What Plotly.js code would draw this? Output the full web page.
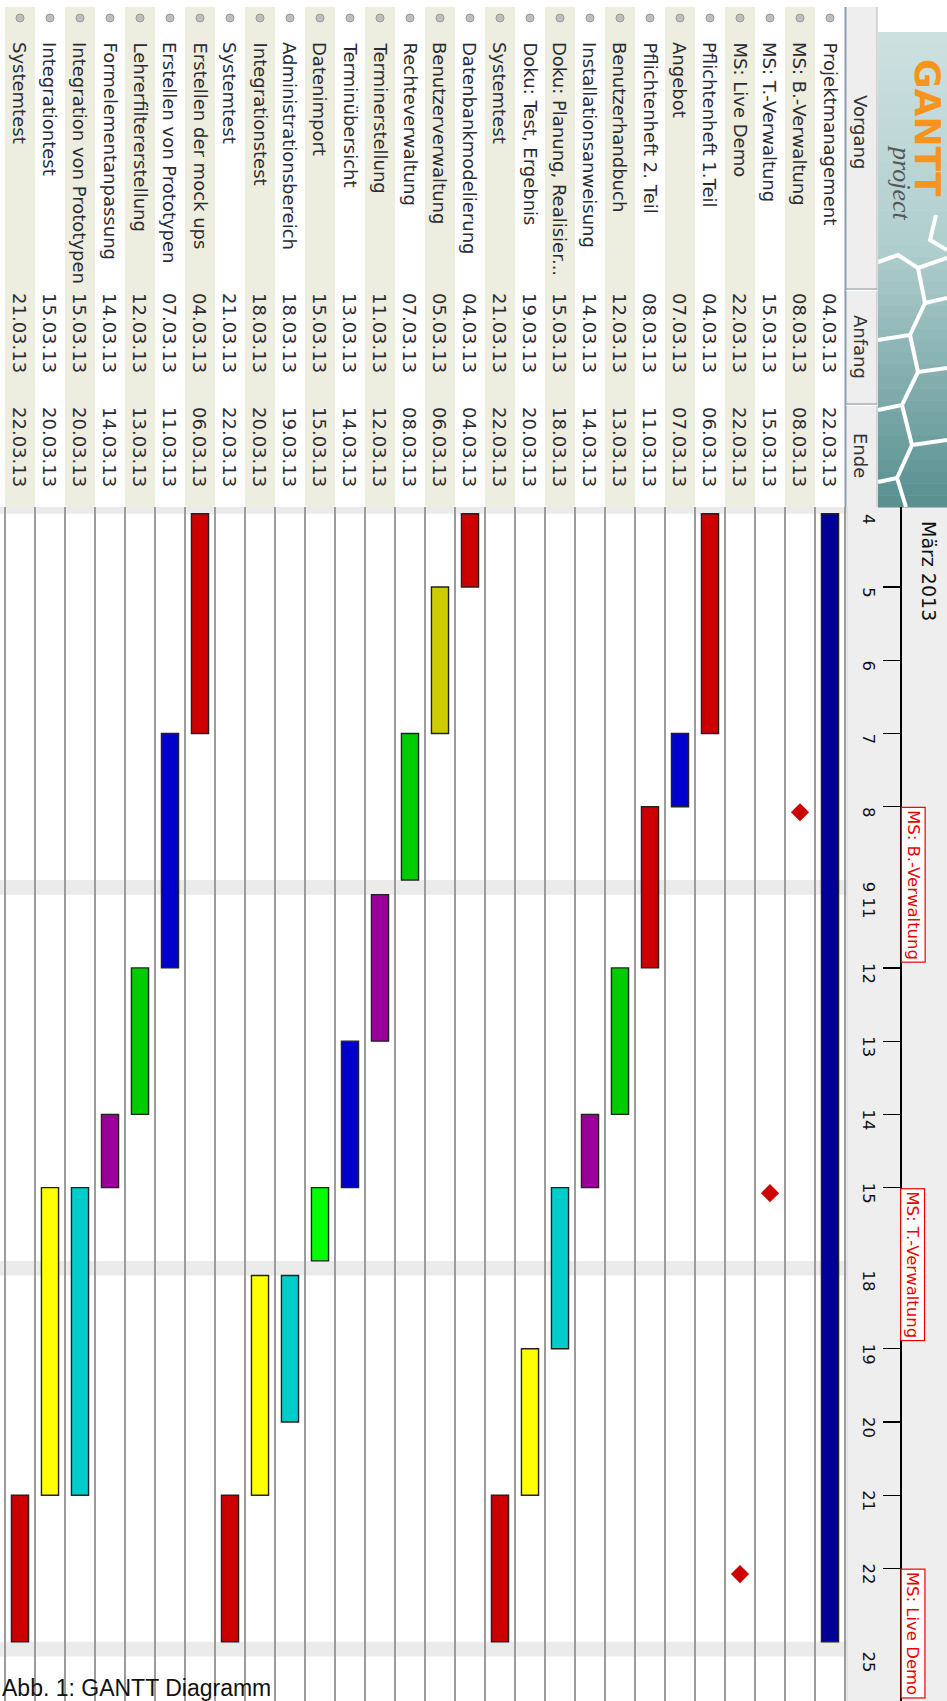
<!DOCTYPE html>
<html><head><meta charset="utf-8">
<script src="https://cdn.plot.ly/plotly-3.0.1.min.js"></script>
<style>html,body{margin:0;padding:0;background:#fff;} #chart{width:947px;height:1701px;}</style>
</head><body><div id="chart"></div>
<script>
// ---------- DATA ----------
const taskNames = ['Projektmanagement','MS: B.-Verwaltung','MS: T.-Verwaltung','MS: Live Demo','Pflichtenheft 1.Teil','Angebot','Pflichtenheft 2. Teil','Benutzerhandbuch','Installationsanweisung','Doku: Planung, Realisier...','Doku: Test, Ergebnis','Systemtest','Datenbankmodelierung','Benutzerverwaltung','Rechteverwaltung','Terminerstellung','Terminübersicht','Datenimport','Administrationsbereich','Integrationstest','Systemtest','Erstellen der mock ups','Erstellen von Prototypen','Lehrerfiltererstellung','Formelementanpassung','Integration von Prototypen','Integrationtest','Systemtest'];
const taskStart = ['2013-03-04','2013-03-08','2013-03-15','2013-03-22','2013-03-04','2013-03-07','2013-03-08','2013-03-12','2013-03-14','2013-03-15','2013-03-19','2013-03-21','2013-03-04','2013-03-05','2013-03-07','2013-03-11','2013-03-13','2013-03-15','2013-03-18','2013-03-18','2013-03-21','2013-03-04','2013-03-07','2013-03-12','2013-03-14','2013-03-15','2013-03-15','2013-03-21'];
const taskEnd = ['2013-03-22','2013-03-08','2013-03-15','2013-03-22','2013-03-06','2013-03-07','2013-03-11','2013-03-13','2013-03-14','2013-03-18','2013-03-20','2013-03-22','2013-03-04','2013-03-06','2013-03-08','2013-03-12','2013-03-14','2013-03-15','2013-03-19','2013-03-20','2013-03-22','2013-03-06','2013-03-11','2013-03-13','2013-03-14','2013-03-20','2013-03-20','2013-03-22'];
const isMilestone = [false,true,true,true,false,false,false,false,false,false,false,false,false,false,false,false,false,false,false,false,false,false,false,false,false,false,false,false];
const barColors = ['#000099',null,null,null,'#cc0000','#0000cc','#cc0000','#00cc00','#990099','#00cccc','#ffff00','#cc0000','#cc0000','#cccc00','#00cc00','#990099','#0000cc','#00ff00','#00cccc','#ffff00','#cc0000','#cc0000','#0000cc','#00cc00','#990099','#00cccc','#ffff00','#cc0000'];
const dayTicks = ['2013-03-04','2013-03-05','2013-03-06','2013-03-07','2013-03-08','2013-03-11','2013-03-12','2013-03-13','2013-03-14','2013-03-15','2013-03-18','2013-03-19','2013-03-20','2013-03-21','2013-03-22','2013-03-25'];
const dayLabels = ['4','5','6','7','8','9 11','12','13','14','15','18','19','20','21','22','25'];
const weekendStarts = ['2013-03-09','2013-03-16','2013-03-23'];
const monthLabel = 'März 2013';
const headers = ['Vorgang','Anfang','Ende'];
const caption = 'Abb. 1: GANTT Diagramm';

// ---------- GEOMETRY (pixels) ----------
const W = 947, H = 1701;
const PLOT_RIGHT = 847, PLOT_TOP = 507, FIRST_DAY_PX = 513.75, DAY_PX = 73.25, BAND = 0.2;
const AXIS_X = 900;
const DAY = 86400000;
const px = v => v / W, py = v => 1 - v / H;
const ms = d => Date.parse(d + 'T00:00:00Z');
const ts = m => new Date(m).toISOString().slice(0, 23).replace('T', ' ');
const fmt = d => { const p = d.split('-'); return p[2] + '.' + p[1] + '.' + p[0].slice(2); };

const nRows = taskNames.length;
const rowIdx = taskNames.map((_, i) => i + 1);
const X_LEFT = nRows + 0.5 + 5 / 30, X_RIGHT = 0.5 - 2 / 30;

const lastDay = dayTicks[dayTicks.length - 1];
const workDaysBefore = dayTicks.length - 1;
const nWeekends = weekendStarts.filter(s => ms(s) < ms(lastDay)).length;
const lead = (FIRST_DAY_PX - PLOT_TOP) / DAY_PX;
const yStart = ms(dayTicks[0]) - lead * DAY;
const totalDays = (H - PLOT_TOP) / DAY_PX;
const yEnd = ms(lastDay) + (totalDays - lead - workDaysBefore - nWeekends * BAND) * DAY;

// ---------- TRACES ----------
const barIdx = rowIdx.filter((r, i) => !isMilestone[i]);
const bars = {
  type: 'bar', orientation: 'v', xaxis: 'x', yaxis: 'y',
  x: barIdx,
  base: barIdx.map(r => taskStart[r - 1]),
  y: barIdx.map(r => ms(taskEnd[r - 1]) + DAY - ms(taskStart[r - 1])),
  width: 0.57,
  marker: { color: barIdx.map(r => barColors[r - 1]), line: { color: '#222222', width: 1.4 } },
  hoverinfo: 'skip'
};
const msIdx = rowIdx.filter((r, i) => isMilestone[i]);
const diamonds = {
  type: 'scatter', mode: 'markers', xaxis: 'x', yaxis: 'y',
  x: msIdx,
  y: msIdx.map(r => ts(ms(taskStart[r - 1]) + 1.8 * 3600000)),
  marker: { symbol: 'diamond', size: 14, color: '#cc0000', line: { width: 0 } },
  hoverinfo: 'skip'
};
const bullets = {
  type: 'scatter', mode: 'markers', xaxis: 'x2', yaxis: 'y2',
  x: rowIdx, y: rowIdx.map(() => 18),
  marker: { symbol: 'circle', size: 8, color: '#bdbdbd', line: { color: '#9a9a9a', width: 1 } },
  hoverinfo: 'skip'
};

// ---------- SHAPES ----------
const shapes = [];
rowIdx.forEach(r => {
  if (r % 2 === 0) shapes.push({ type: 'rect', xref: 'x2', yref: 'y2', x0: r - 0.5, x1: Math.min(r + 0.5, X_LEFT), y0: 7, y1: PLOT_TOP, fillcolor: '#eeeee0', line: { width: 0 }, layer: 'below' });
});
weekendStarts.forEach(s => {
  shapes.push({ type: 'rect', xref: 'paper', yref: 'y', x0: 0, x1: px(PLOT_RIGHT), y0: ts(ms(s)), y1: ts(ms(s) + BAND * DAY), fillcolor: '#ebebeb', line: { width: 0 }, layer: 'below' });
});
shapes.push({ type: 'rect', xref: 'paper', yref: 'paper', x0: 0, x1: px(PLOT_RIGHT), y0: py(FIRST_DAY_PX), y1: py(PLOT_TOP), fillcolor: '#ebebeb', line: { width: 0 }, layer: 'below' });
shapes.push({ type: 'rect', xref: 'paper', yref: 'paper', x0: px(PLOT_RIGHT), x1: 1, y0: 0, y1: py(PLOT_TOP), fillcolor: '#eeeeee', line: { width: 0 }, layer: 'below' });
shapes.push({ type: 'line', xref: 'paper', yref: 'paper', x0: px(PLOT_RIGHT), x1: px(PLOT_RIGHT), y0: 0, y1: py(PLOT_TOP), line: { color: '#d4d4d4', width: 1 } });
shapes.push({ type: 'rect', xref: 'paper', yref: 'paper', x0: px(845), x1: px(877), y0: py(PLOT_TOP), y1: py(7), fillcolor: '#eeeeee', line: { width: 0 }, layer: 'below' });
shapes.push({ type: 'line', xref: 'paper', yref: 'paper', x0: px(845.5), x1: px(845.5), y0: py(PLOT_TOP), y1: py(7), line: { color: '#8c9cac', width: 2 } });
shapes.push({ type: 'line', xref: 'paper', yref: 'paper', x0: px(877), x1: px(877), y0: py(PLOT_TOP), y1: py(7), line: { color: '#b8b8b8', width: 1 } });
[289, 404].forEach(yy => {
  shapes.push({ type: 'line', xref: 'paper', yref: 'paper', x0: px(846), x1: px(877), y0: py(yy), y1: py(yy), line: { color: '#9aa4ae', width: 1.2 } });
  shapes.push({ type: 'line', xref: 'paper', yref: 'paper', x0: px(846), x1: px(877), y0: py(yy + 1.5), y1: py(yy + 1.5), line: { color: '#ffffff', width: 1 } });
});
const LOGO_TOP = 32, LOGO_BOT = PLOT_TOP, NB = 40;
const cTop = [206, 224, 224], cMid = [176, 206, 206], cBot = [88, 143, 143];
for (let k = 0; k < NB; k++) {
  const t = (k + 0.5) / NB;
  let c;
  if (t < 0.45) { const u = t / 0.45; c = cTop.map((v, j) => v + (cMid[j] - v) * u); }
  else { const u = (t - 0.45) / 0.55; c = cMid.map((v, j) => v + (cBot[j] - v) * u); }
  const y0 = LOGO_TOP + (LOGO_BOT - LOGO_TOP) * k / NB, y1 = LOGO_TOP + (LOGO_BOT - LOGO_TOP) * (k + 1) / NB + 0.6;
  shapes.push({ type: 'rect', xref: 'paper', yref: 'paper', x0: px(878), x1: 1, y0: py(y1), y1: py(y0), fillcolor: 'rgb(' + c.map(Math.round).join(',') + ')', line: { width: 0 }, layer: 'below' });
}
const hexLines = [
  [[878,262],[898,255],[918,268],[947,258]],
  [[918,268],[925,303],[910,335],[878,340]],
  [[925,303],[947,298]],
  [[910,335],[918,372],[902,405],[878,410]],
  [[918,372],[947,368]],
  [[902,405],[912,445],[897,478],[878,482]],
  [[912,445],[947,440]],
  [[897,478],[906,507]],
  [[936,215],[930,240],[947,250]]
];
hexLines.forEach(pts => {
  const path = pts.map((p, i) => (i ? 'L' : 'M') + px(p[0]).toFixed(5) + ',' + py(p[1]).toFixed(5)).join(' ');
  shapes.push({ type: 'path', xref: 'paper', yref: 'paper', path: path, line: { color: '#ffffff', width: 4 }, layer: 'below' });
});

// ---------- ANNOTATIONS ----------
const FONT = 'DejaVu Sans';
const TXT = '#2b2b35';
const ann = [];
rowIdx.forEach((r, i) => {
  ann.push({ xref: 'x2', yref: 'y2', x: r, y: 40, xanchor: 'center', yanchor: 'top', textangle: 90, showarrow: false, text: taskNames[i], font: { family: FONT, size: 18, color: TXT } });
  ann.push({ xref: 'x2', yref: 'y2', x: r, y: 291, xanchor: 'center', yanchor: 'top', textangle: 90, showarrow: false, text: fmt(taskStart[i]), font: { family: FONT, size: 18, color: TXT } });
  ann.push({ xref: 'x2', yref: 'y2', x: r, y: 405, xanchor: 'center', yanchor: 'top', textangle: 90, showarrow: false, text: fmt(taskEnd[i]), font: { family: FONT, size: 18, color: TXT } });
});
[[headers[0], 132], [headers[1], 347], [headers[2], 455]].forEach(h => {
  ann.push({ xref: 'paper', yref: 'paper', x: px(861), y: py(h[1]), xanchor: 'center', yanchor: 'middle', textangle: 90, showarrow: false, text: h[0], font: { family: FONT, size: 18, color: '#333333' } });
});
msIdx.forEach(r => {
  ann.push({ xref: 'paper', yref: 'y', x: px(AXIS_X + 0.5), y: taskStart[r - 1], xanchor: 'left', yanchor: 'top', textangle: 90, showarrow: false, text: taskNames[r - 1], font: { family: FONT, size: 16.5, color: '#ee0000' }, bgcolor: '#ffffff', bordercolor: '#ee0000', borderwidth: 1.2, borderpad: 2 });
});
ann.push({ xref: 'paper', yref: 'paper', x: px(929), y: py(519), xanchor: 'center', yanchor: 'top', textangle: 90, showarrow: false, text: monthLabel, font: { family: FONT, size: 19, color: '#111111' } });
ann.push({ xref: 'paper', yref: 'paper', x: px(927), y: py(128), xanchor: 'center', yanchor: 'middle', textangle: 90, showarrow: false, text: '<b>GANTT</b>', font: { family: FONT, size: 36, color: '#f7941d' } });
ann.push({ xref: 'paper', yref: 'paper', x: px(901), y: py(182), xanchor: 'center', yanchor: 'middle', textangle: 90, showarrow: false, text: '<i>project</i>', font: { family: 'Liberation Serif', size: 26, color: '#555555' } });
ann.push({ xref: 'paper', yref: 'paper', x: 0, y: py(1673), xanchor: 'left', yanchor: 'top', showarrow: false, text: caption, font: { family: 'Liberation Sans', size: 23, color: '#111111' } });

// ---------- LAYOUT ----------
const LABEL_SHIFT = 8 / DAY_PX * DAY;
const tickMarks = dayTicks.filter(d => new Date(ms(d)).getUTCDay() !== 1);
const layout = {
  width: W, height: H,
  margin: { l: 0, r: 0, t: 0, b: 0, pad: 0 },
  paper_bgcolor: '#ffffff', plot_bgcolor: '#ffffff',
  showlegend: false, hovermode: false,
  xaxis: {
    domain: [0, px(PLOT_RIGHT)], range: [X_LEFT, X_RIGHT], anchor: 'y',
    tickmode: 'array', tickvals: rowIdx.map(r => r - 0.5).concat([nRows + 0.5]),
    showgrid: true, gridcolor: '#9c9c9c', gridwidth: 1.6,
    showticklabels: false, ticks: '', zeroline: false, showline: false, fixedrange: true
  },
  yaxis: {
    type: 'date', domain: [0, py(PLOT_TOP)], range: [ts(yEnd), ts(yStart)],
    anchor: 'free', position: px(AXIS_X), side: 'left',
    rangebreaks: weekendStarts.map(s => ({ bounds: [ts(ms(s) + BAND * DAY), ts(ms(s) + 2 * DAY)] })),
    tickmode: 'array',
    tickvals: dayTicks.map(d => ts(ms(d) + LABEL_SHIFT)),
    ticktext: dayLabels,
    tickangle: 90,
    ticks: 'outside', ticklen: 17, tickcolor: 'rgba(0,0,0,0)',
    minor: { tickmode: 'array', tickvals: tickMarks, ticks: 'outside', ticklen: 17, tickcolor: '#000000', tickwidth: 1.3, showgrid: false },
    tickfont: { family: FONT, size: 16.5, color: '#111111' },
    showgrid: false, zeroline: false,
    showline: true, linecolor: '#000000', linewidth: 1.5, fixedrange: true
  },
  xaxis2: { domain: [0, px(PLOT_RIGHT)], range: [X_LEFT, X_RIGHT], anchor: 'y2', visible: false, fixedrange: true },
  yaxis2: { domain: [py(PLOT_TOP), 1], range: [PLOT_TOP, 0], anchor: 'x2', visible: false, fixedrange: true },
  shapes: shapes,
  annotations: ann
};
Plotly.newPlot('chart', [bars, diamonds, bullets], layout, { staticPlot: true, displayModeBar: false });
</script>
</body></html>
